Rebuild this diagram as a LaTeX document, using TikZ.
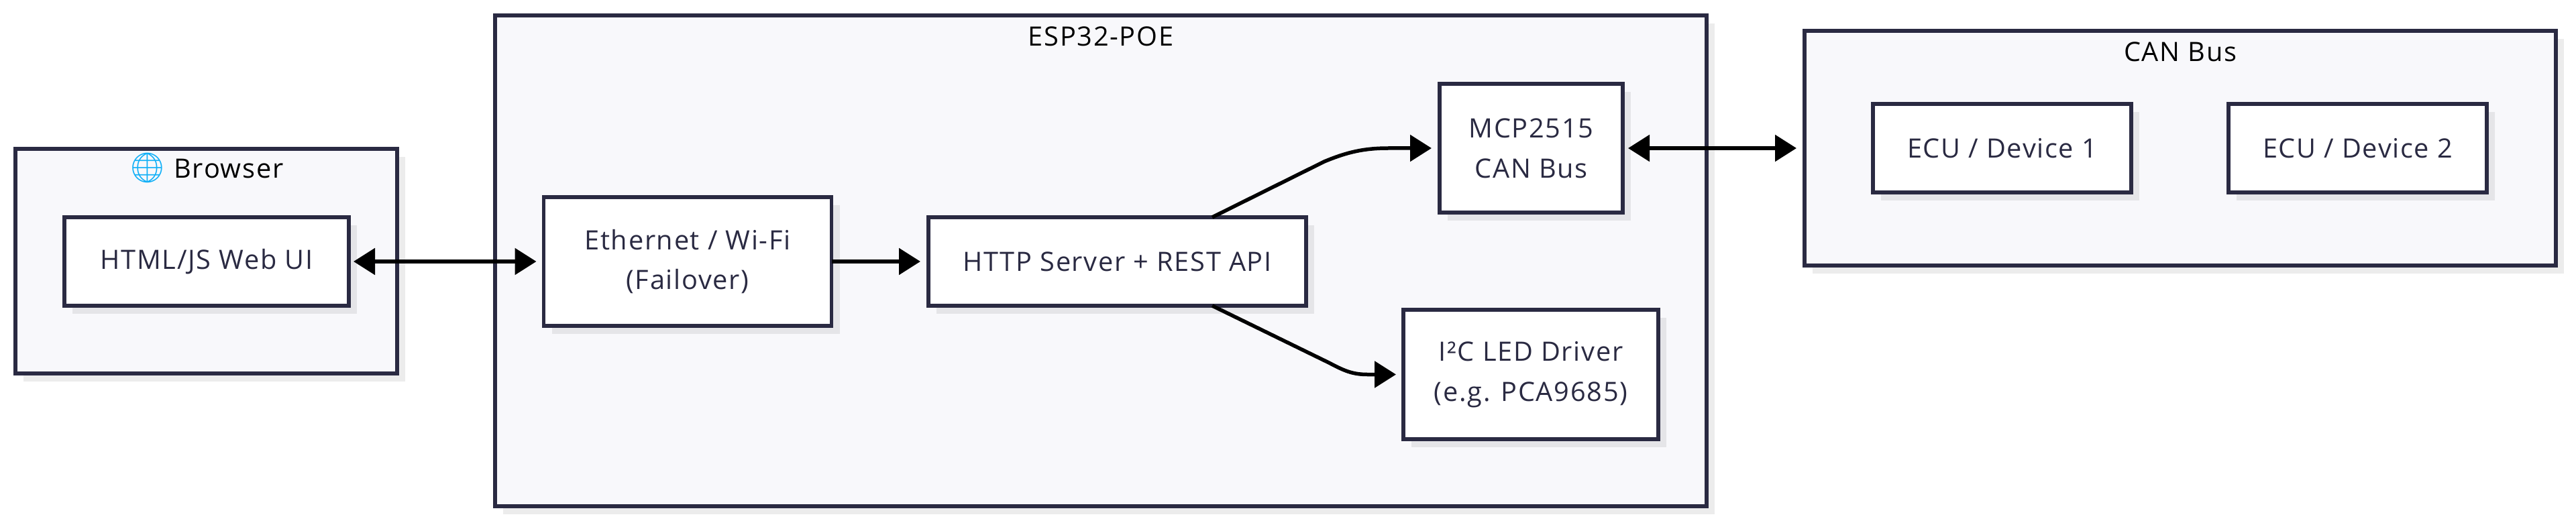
\documentclass[tikz,border=0pt]{standalone}
\usepackage{fontspec}
\setmainfont[LetterSpace = 4.3]{Open Sans}
\newfontfamily\emojifont{Noto Emoji}
\usetikzlibrary{arrows.meta, shadows}
\definecolor{boxline}{HTML}{2A2A42}
\definecolor{groupfill}{HTML}{F8F8FB}
\definecolor{globeblue}{HTML}{12B0F7}
\tikzset{
    basebox/.style = {draw = boxline, line width = 0.056cm, inner sep = 0, outer sep = 0,
        drop shadow = {shadow xshift = 0.12cm, shadow yshift = -0.12cm, fill = black, opacity = 0.075}},
    groupbox/.style = {basebox, fill = groupfill},
    partbox/.style = {basebox, fill = white, text = boxline, align = center,
        font = \fontsize{11.3}{17}\selectfont},
    titletext/.style = {inner sep = 0, text = black, font = \fontsize{11.3}{13}\selectfont},
    flow/.style = {-{Triangle[length = 0.32cm, width = 0.39cm]}, line width = 0.055cm, black},
    twoway/.style = {flow, {Triangle[length = 0.32cm, width = 0.39cm]}-{Triangle[length = 0.32cm, width = 0.39cm]}}
}
\begin{document}
\begin{tikzpicture}
        \useasboundingbox (0, 0) rectangle (38.4, 7.82);
        \node[groupbox, minimum width = 5.69cm, minimum height = 3.35cm] (browser) at (3.075, 3.925) {};
        \node[groupbox, minimum width = 18.06cm, minimum height = 7.32cm] (esp) at (16.41, 3.93) {};
        \node[groupbox, minimum width = 11.2cm, minimum height = 3.5cm] (canbus) at (32.5, 5.61) {};
        \node[titletext] (browsertitle) at (3.07, 5.32) {{\color{globeblue}\emojifont\fontsize{12.5}{13}\selectfont 🌐} Browser};
        \node[titletext] (esptitle) at (16.41, 7.28) {ESP32-POE};
        \node[titletext] (canbustitle) at (32.5, 7.05) {CAN Bus};
        \node[partbox, minimum width = 4.24cm, minimum height = 1.32cm] (webui) at (3.08, 3.92) {HTML/JS Web UI};
        \node[partbox, minimum width = 4.29cm, minimum height = 1.92cm] (ethernet) at (10.25, 3.92) {Ethernet / Wi-Fi\\(Failover)};
        \node[partbox, minimum width = 5.63cm, minimum height = 1.32cm] (httpapi) at (16.655, 3.92) {HTTP Server + REST API};
        \node[partbox, minimum width = 2.73cm, minimum height = 1.925cm] (mcp) at (22.825, 5.61) {MCP2515\\CAN Bus};
        \node[partbox, minimum width = 3.8cm, minimum height = 1.93cm] (leddriver) at (22.82, 2.235) {I²C LED Driver\\(e.g. PCA9685)};
        \node[partbox, minimum width = 3.85cm, minimum height = 1.315cm] (ecuone) at (29.845, 5.61) {ECU / Device 1};
        \node[partbox, minimum width = 3.85cm, minimum height = 1.315cm] (ecutwo) at (35.145, 5.61) {ECU / Device 2};
        \coordinate (upbend) at (19.74, 5.41);
        \coordinate (uplevel) at (20.7, 5.61);
        \coordinate (downbend) at (19.81, 2.41);
        \coordinate (downlevel) at (20.38, 2.235);
        \draw[twoway, shorten <= 0.07cm, shorten >= 0.11cm] (webui.east) -- (ethernet.west);
        \draw[flow, shorten >= 0.12cm] (ethernet.east) -- (httpapi.west);
        \draw[flow, shorten >= 0.12cm] (httpapi.25) -- (upbend) .. controls (20.1, 5.56) and (20.35, 5.61) .. (uplevel) -- (mcp.west);
        \draw[flow, shorten >= 0.11cm] (httpapi.-25) -- (downbend) .. controls (20.02, 2.3) and (20.15, 2.235) .. (downlevel) -- (leddriver.west);
        \draw[twoway, shorten <= 0.08cm, shorten >= 0.12cm] (mcp.east) -- (canbus.west);
    \end{tikzpicture}
\end{document}
